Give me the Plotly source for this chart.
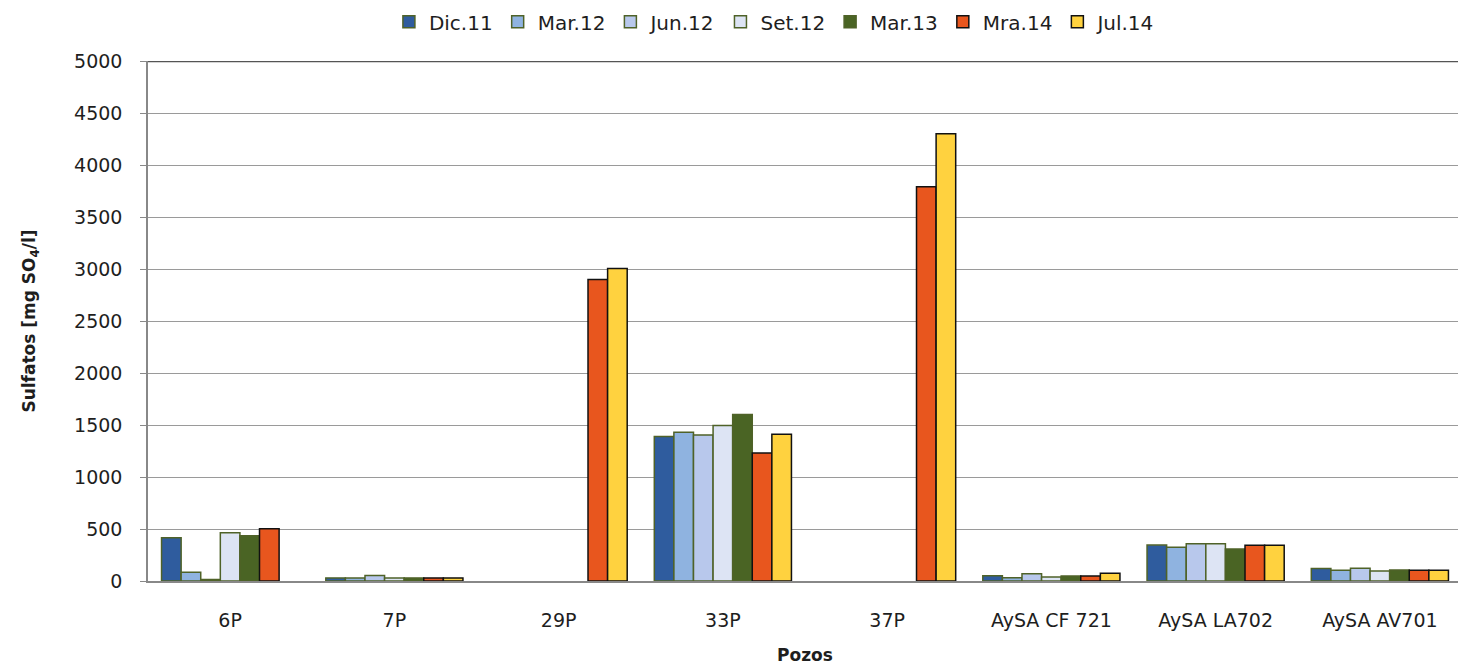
import plotly.graph_objects as go

categories = ["6P", "7P", "29P", "33P", "37P", "AySA CF 721", "AySA LA702", "AySA AV701"]
series_names = ["Dic.11", "Mar.12", "Jun.12", "Set.12", "Mar.13", "Mra.14", "Jul.14"]

dic11 = [415, 30, None, 1390, None, 50, 345, 120]
mar12 = [85, 28, None, 1430, None, 32, 325, 103]
jun12 = [15, 52, None, 1405, None, 70, 358, 122]
set12 = [465, 30, None, 1495, None, 38, 358, 96]
mar13 = [435, 30, None, 1600, None, 48, 308, 106]
mra14 = [503, 30, 2900, 1230, 3790, 48, 343, 103]
jul14 = [None, 30, 3005, 1410, 4300, 74, 343, 103]

values = [dic11, mar12, jun12, set12, mar13, mra14, jul14]
fills = ["#2F5C9E", "#8FB3E0", "#B8C8EC", "#DDE4F4", "#4A6424", "#E8561E", "#FFD23F"]
outlines = ["#4F6228", "#4F6228", "#4F6228", "#4F6228", "#4F6228", "#111111", "#111111"]

fig = go.Figure()
for name, vals, fc, lc in zip(series_names, values, fills, outlines):
    fig.add_trace(go.Bar(
        name=name, x=categories, y=vals,
        marker=dict(color=fc, line=dict(color=lc, width=1.5)),
    ))

font_family = "DejaVu Sans, Verdana, sans-serif"
fig.update_layout(
    width=1458, height=657,
    margin=dict(l=140, r=4, t=53, b=84, autoexpand=False),
    paper_bgcolor="white", plot_bgcolor="white",
    barmode="group", bargap=0.165, bargroupgap=0,
    font=dict(family=font_family, size=18, color="#1e1e1e"),
    legend=dict(orientation="h", xref="container", yref="container",
                x=0.526, xanchor="center", y=0.979, yanchor="middle",
                font=dict(size=20, color="#1e1e1e"), itemwidth=30, tracegroupgap=0),
    xaxis=dict(
        showgrid=False, showline=True, linecolor="#888888", linewidth=1.5,
        ticks="", tickfont=dict(size=19), ticklabelstandoff=21,
        title=dict(text="<b>Pozos</b>", font=dict(size=17), standoff=20),
    ),
    yaxis=dict(
        range=[0, 5000], dtick=500, tickmode="linear",
        showgrid=True, gridcolor="#9a9a9a", gridwidth=1.2,
        showline=True, linecolor="#888888", linewidth=1.5,
        ticks="outside", ticklen=6, tickcolor="#888888",
        tickfont=dict(size=19), zeroline=False, ticklabelstandoff=14,
        title=dict(text="<b>Sulfatos [mg SO<sub>4</sub>/l]</b>", font=dict(size=17), standoff=34),
    ),
)
fig.add_shape(type="line", xref="paper", yref="y", x0=0, x1=1, y0=5000, y1=5000,
              line=dict(color="#555555", width=2.5))

fig.write_html("out.html")
